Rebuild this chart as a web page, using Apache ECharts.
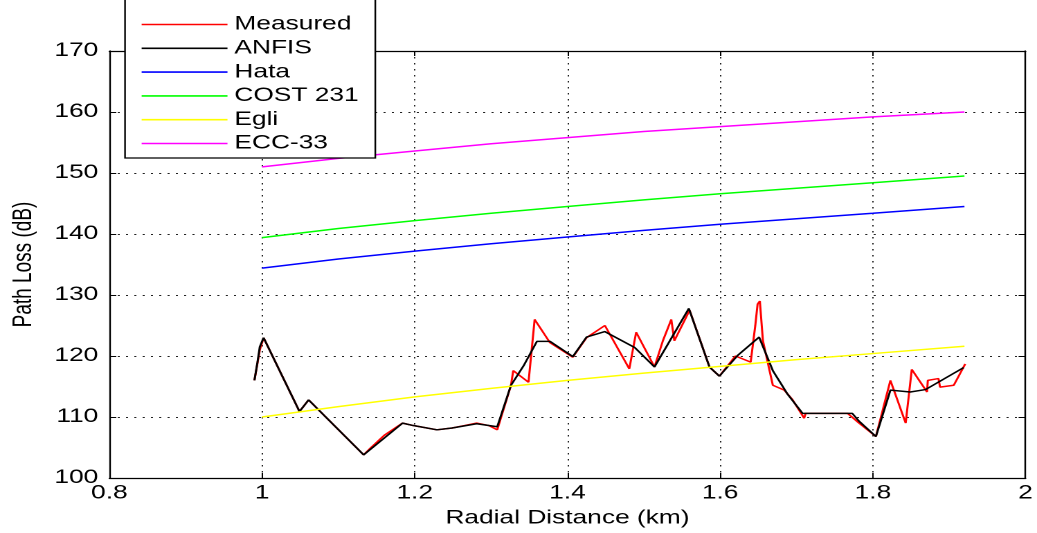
<!DOCTYPE html>
<html>
<head>
<meta charset="utf-8">
<script src="https://cdn.jsdelivr.net/npm/echarts@6/dist/echarts.min.js"></script>
<style>
  html, body { margin: 0; padding: 0; background: #fff; overflow: hidden; width: 1037px; height: 533px; }
  #chart { position: absolute; left: 0; top: 0; width: 749px; height: 533px;
           transform: scaleX(1.38451); transform-origin: 0 0; }
</style>
</head>
<body>
<div id="chart"></div>
<script>
// ---- data ----
const xTicks = [0.8, 1.0, 1.2, 1.4, 1.6, 1.8, 2.0];
const yTicks = [100, 110, 120, 130, 140, 150, 160, 170];

const measuredX = [0.990, 0.997, 1.002, 1.049, 1.061, 1.133, 1.142, 1.160, 1.184, 1.198, 1.229, 1.249, 1.265, 1.281, 1.297, 1.308,
  1.326, 1.329, 1.349, 1.357, 1.377, 1.407, 1.425, 1.449, 1.481, 1.490, 1.514, 1.525, 1.536, 1.540, 1.560, 1.586, 1.599,
  1.620, 1.640, 1.642, 1.646, 1.649, 1.652, 1.656, 1.669, 1.684, 1.695, 1.710, 1.712, 1.767, 1.782, 1.804, 1.823, 1.843,
  1.851, 1.871, 1.872, 1.886, 1.888, 1.906, 1.921];
const measuredY = [116.0, 121.0, 123.0, 110.9, 112.8, 103.8, 104.9, 107.0, 109.0, 108.6, 107.9, 108.2, 108.6, 109.0, 108.6, 107.9,
  115.2, 117.6, 115.7, 126.0, 122.2, 119.8, 123.0, 125.0, 117.9, 123.9, 118.2, 122.5, 126.0, 122.5, 127.5, 118.2, 116.7,
  120.0, 119.0, 121.0, 125.0, 128.5, 129.0, 122.5, 115.2, 114.4, 112.8, 109.8, 110.6, 110.6, 109.0, 106.8, 116.0, 109.0,
  117.8, 114.1, 116.0, 116.3, 114.9, 115.2, 118.7];

const anfisX = [0.990, 0.994, 0.997, 1.002, 1.049, 1.061, 1.133, 1.184, 1.198, 1.229, 1.249, 1.281, 1.297, 1.308, 1.326, 1.343,
  1.360, 1.377, 1.407, 1.425, 1.449, 1.488, 1.514, 1.559, 1.586, 1.599, 1.623, 1.651, 1.669, 1.688, 1.708, 1.773, 1.782,
  1.804, 1.823, 1.849, 1.869, 1.919];
const anfisY = [116.0, 119.0, 121.5, 123.0, 110.9, 112.8, 103.8, 109.0, 108.6, 107.9, 108.2, 108.9, 108.6, 108.4, 115.2, 118.5,
  122.4, 122.4, 119.9, 123.1, 124.0, 121.4, 118.2, 127.8, 118.2, 116.7, 120.1, 123.1, 117.6, 113.8, 110.6, 110.6, 109.3,
  106.8, 114.4, 114.1, 114.5, 118.1];

const modelX = [1.0, 1.1, 1.2, 1.3, 1.4, 1.5, 1.6, 1.7, 1.8, 1.92];
const hataY  = [134.4, 135.9, 137.2, 138.4, 139.5, 140.6, 141.6, 142.5, 143.4, 144.5];
const costY  = [139.4, 140.9, 142.2, 143.4, 144.5, 145.6, 146.6, 147.5, 148.4, 149.5];
const egliY  = [110.0, 111.7, 113.3, 114.7, 116.0, 117.2, 118.3, 119.4, 120.4, 121.6];
const eccY   = [151.0, 152.4, 153.6, 154.8, 155.8, 156.8, 157.6, 158.4, 159.2, 160.0];

const seriesNames = ['Measured', 'ANFIS', 'Hata', 'COST 231', 'Egli', 'ECC-33'];
const seriesColors = ['#ff0000', '#000000', '#0000ff', '#00ff00', '#ffff00', '#ff00ff'];

// ---- build ----
const zip = (xs, ys) => xs.map((x, i) => [x, ys[i]]);
const seriesData = [
  zip(measuredX, measuredY), zip(anfisX, anfisY),
  zip(modelX, hataY), zip(modelX, costY), zip(modelX, egliY), zip(modelX, eccY)
];

const FONT = '"Liberation Sans", Arial, Helvetica, sans-serif';
const FS = 19;
const grid = { left: 78, right: 7.2, top: 51, bottom: 51 };

const chart = echarts.init(document.getElementById('chart'), null, { devicePixelRatio: 2 });
chart.setOption({
  animation: false,
  backgroundColor: '#fff',
  textStyle: { fontFamily: FONT },
  grid: grid,
  legend: {
    orient: 'vertical',
    left: 90.3,
    top: -5,
    padding: [20, 12, 5, 12],
    itemGap: 4.8,
    itemWidth: 62,
    itemHeight: 1.6,
    icon: 'rect',
    backgroundColor: '#fff',
    borderColor: '#000',
    borderWidth: 1.2,
    borderRadius: 0,
    z: 20,
    textStyle: { fontFamily: FONT, fontSize: FS, color: '#000' },
    data: seriesNames
  },
  xAxis: [{
    type: 'value', min: xTicks[0], max: xTicks[xTicks.length - 1], interval: 0.2,
    name: 'Radial Distance (km)', nameLocation: 'middle', nameGap: 31,
    nameTextStyle: { fontFamily: FONT, fontSize: FS, color: '#000' },
    axisLine: { show: true, onZero: false, lineStyle: { color: '#000', width: 1.2 } },
    axisTick: { show: true, inside: true, length: 5, lineStyle: { color: '#000' } },
    axisLabel: { fontFamily: FONT, fontSize: FS, color: '#000', margin: 6 },
    splitLine: { show: true, lineStyle: { color: '#222', type: [1.5, 4.5], width: 1 } }
  }, {
    type: 'value', position: 'top', min: xTicks[0], max: xTicks[xTicks.length - 1], interval: 0.2,
    axisLine: { show: true, onZero: false, lineStyle: { color: '#000', width: 1.2 } },
    axisTick: { show: true, inside: true, length: 5, lineStyle: { color: '#000' } },
    axisLabel: { show: false }, splitLine: { show: false }
  }],
  yAxis: [{
    type: 'value', min: yTicks[0], max: yTicks[yTicks.length - 1], interval: 10,
    name: 'Path Loss (dB)', nameLocation: 'middle', nameGap: 52, nameRotate: 90,
    nameTextStyle: { fontFamily: FONT, fontSize: FS, color: '#000' },
    axisLine: { show: true, onZero: false, lineStyle: { color: '#000', width: 1.2 } },
    axisTick: { show: true, inside: true, length: 5, lineStyle: { color: '#000' } },
    axisLabel: { fontFamily: FONT, fontSize: FS, color: '#000', margin: 8 },
    splitLine: { show: true, lineStyle: { color: '#222', type: [1.5, 4.5], width: 1 } }
  }, {
    type: 'value', position: 'right', min: yTicks[0], max: yTicks[yTicks.length - 1], interval: 10,
    axisLine: { show: true, onZero: false, lineStyle: { color: '#000', width: 1.2 } },
    axisTick: { show: true, inside: true, length: 5, lineStyle: { color: '#000' } },
    axisLabel: { show: false }, splitLine: { show: false }
  }],
  series: seriesNames.map((name, i) => ({
    name: name,
    type: 'line',
    xAxisIndex: 0, yAxisIndex: 0,
    data: seriesData[i],
    symbol: 'none',
    color: seriesColors[i],
    lineStyle: { color: seriesColors[i], width: 1.5 },
    z: 2 + i
  }))
});
</script>
</body>
</html>
